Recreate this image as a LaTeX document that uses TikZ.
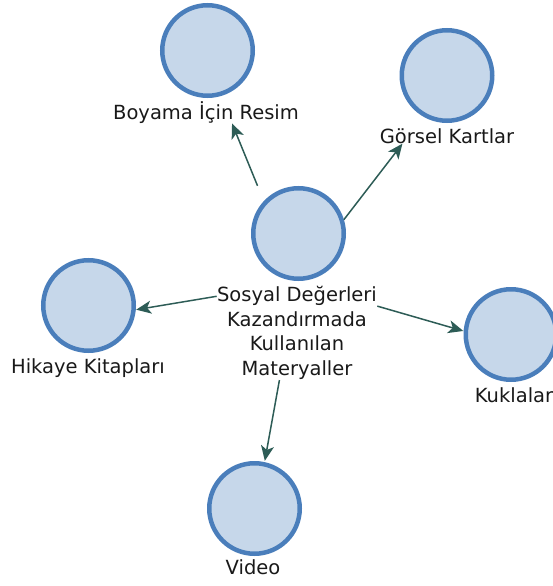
\documentclass[tikz,border=0pt]{standalone}
\usepackage{fontspec}
\setmainfont{DejaVu Sans}
\usetikzlibrary{arrows.meta,fit}
\definecolor{bubfill}{RGB}{198,215,234}
\definecolor{bubline}{RGB}{74,126,187}
\definecolor{arrcol}{RGB}{45,92,86}
\definecolor{txtcol}{RGB}{25,25,25}
\tikzset{
  bub/.style={circle, draw=bubline, fill=bubfill, line width=4.5pt, minimum size=90.5pt, inner sep=0pt},
  lbl/.style={inner sep=0pt, text=txtcol, anchor=base},
  grp/.style={inner sep=0pt, draw=none},
  conn/.style={draw=arrcol, line width=1.5pt, -{Stealth[length=15pt,width=13pt,inset=4pt]}}
}
\begin{document}
\begin{tikzpicture}[x=1pt, y=-1pt, font=\fontsize{19.5}{24.7}\selectfont]
\useasboundingbox (0,0) rectangle (553,586);
% circles
\node[bub] (c0) at (298.5,233.5) {};
\node[bub] (c1) at (207.5,50.5) {};
\node[bub] (c2) at (447,75.5) {};
\node[bub] (c3) at (88.5,305.5) {};
\node[bub] (c4) at (511,334.5) {};
\node[bub] (c5) at (254.5,508.5) {};
% labels
\node[lbl, anchor=north, align=center] (l0) at (297,286) {Sosyal Değerleri\\Kazandırmada\\Kullanılan\\Materyaller};
\node[lbl] (l1) at (206,119) {Boyama İçin Resim};
\node[lbl] (l2) at (447,143) {Görsel Kartlar};
\node[lbl] (l3) at (88,373) {Hikaye Kitapları};
\node[lbl] (l4) at (514,402) {Kuklalar};
\node[lbl] (l5) at (253,574) {Video};
% groups
\node[grp, fit=(c0)(l0)] (g0) {};
\node[grp, fit=(c1)(l1.south)] (g1) {};
\node[grp, fit=(c2)(l2.south)] (g2) {};
\node[grp, fit=(c3)(l3.south)] (g3) {};
\node[grp, fit=(c4)(l4.south)] (g4) {};
\node[grp, fit=(c5)(l5.south)] (g5) {};
% connectors
\draw[conn] (g0) -- (g1);
\draw[conn] (c0.17) -- (g2);
\draw[conn] (g0) -- (g3);
\draw[conn] (g0) -- (g4);
\draw[conn] (g0) -- (g5);
\end{tikzpicture}
\end{document}
